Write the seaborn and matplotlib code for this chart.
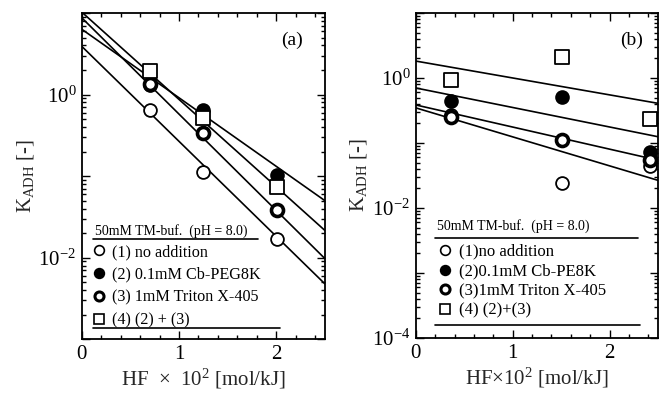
import numpy as np
import matplotlib
matplotlib.use("Agg")
import matplotlib.pyplot as plt
import matplotlib.ticker as mticker
from matplotlib.lines import Line2D
import seaborn as sns

# ---------------- data ----------------
# Panel (a)
hf_a = [0.70, 1.25, 2.01]
k_a_none = [0.65, 0.112, 0.017]
k_a_peg = [1.30, 0.65, 0.103]
k_a_triton = [1.33, 0.34, 0.038]
k_a_both = [1.92, 0.52, 0.074]
# regression lines: log10(K) at HF=0 and slope (decades per unit HF)
line_a_log0 = [0.59, 0.80, 0.94, 1.01]
line_a_slope = [-1.164, -0.84, -1.18, -1.07]

# Panel (b)
hf_b = [0.36, 1.51, 2.42]
k_b_none = [0.27, 0.024, 0.044]
k_b_peg = [0.44, 0.51, 0.073]
k_b_triton = [0.25, 0.11, 0.055]
k_b_both = [0.93, 2.1, 0.234]
line_b_log0 = [-0.46, -0.154, -0.415, 0.26]
line_b_slope = [-0.446, -0.30, -0.34, -0.26]

labels_a = ["(1) no addition", "(2) 0.1mM Cb-PEG8K", "(3) 1mM Triton X-405", "(4) (2) + (3)"]
labels_b = ["(1)no addition", "(2)0.1mM Cb-PE8K", "(3)1mM Triton X-405", "(4) (2)+(3)"]
header = "50mM TM-buf.  (pH = 8.0)"

# ---------------- style ----------------
sns.set_theme(style="ticks")
plt.rcParams['font.family'] = ['Liberation Serif', 'DejaVu Serif']
plt.rcParams['mathtext.fontset'] = 'custom'
plt.rcParams['mathtext.rm'] = 'Liberation Serif'
plt.rcParams['mathtext.it'] = 'Liberation Serif:italic'
plt.rcParams['mathtext.bf'] = 'Liberation Serif:bold'
plt.rcParams['axes.edgecolor'] = 'black'
plt.rcParams['text.color'] = 'black'
plt.rcParams['xtick.color'] = 'black'
plt.rcParams['ytick.color'] = 'black'

fig = plt.figure(figsize=(6.6, 3.93), dpi=100)
ax_a = fig.add_axes([0.124, 0.137, 0.368, 0.830])
ax_b = fig.add_axes([0.630, 0.140, 0.367, 0.827])

styles = [
    dict(marker='o', facecolor='white', edgecolor='black', linewidth=1.3, s=85),   # none
    dict(marker='o', facecolor='black', edgecolor='black', linewidth=1.3, s=85),   # peg
    dict(marker='o', facecolor='white', edgecolor='black', linewidth=2.6, s=75),   # triton
    dict(marker='s', facecolor='white', edgecolor='black', linewidth=1.3, s=95),   # both
]
handle_kw = [
    dict(marker='o', mfc='white', mec='black', mew=1.2, ms=7),
    dict(marker='o', mfc='black', mec='black', mew=1.2, ms=7),
    dict(marker='o', mfc='white', mec='black', mew=2.2, ms=6.5),
    dict(marker='s', mfc='white', mec='black', mew=1.2, ms=7),
]


def log_fmt(v, pos):
    e = int(round(np.log10(v)))
    if e % 2 == 0 and e <= 0:
        return r"$10^{%d}$" % e
    return ""


def draw_panel(ax, hf, series, log0, slope, ylim, labels, tag,
               header_xy, rule1, rule2, leg_anchor, labelspacing, legsize,
               xlabel):
    xs = np.linspace(0, 2.5, 60)
    for b0, m in zip(log0, slope):
        sns.lineplot(x=xs, y=10 ** (b0 + m * xs), ax=ax, color='black',
                     linewidth=1.2, estimator=None, sort=False, zorder=2)
    # drawing order: peg (under), none, triton, both
    for idx in [1, 0, 2, 3]:
        st = styles[idx]
        sns.scatterplot(x=hf, y=series[idx], ax=ax, marker=st['marker'],
                        s=st['s'], facecolor=st['facecolor'],
                        edgecolor=st['edgecolor'], linewidth=st['linewidth'],
                        zorder=3, legend=False)
    ax.set_yscale('log')
    ax.set_xlim(0, 2.5)
    ax.set_ylim(*ylim)
    ax.xaxis.set_major_locator(mticker.FixedLocator([0, 1, 2]))
    ax.xaxis.set_minor_locator(mticker.MultipleLocator(0.2))
    ax.xaxis.set_major_formatter(mticker.FormatStrFormatter('%d'))
    ax.yaxis.set_major_locator(mticker.LogLocator(base=10, numticks=20))
    ax.yaxis.set_minor_locator(mticker.LogLocator(base=10, subs=np.arange(2, 10), numticks=20))
    ax.yaxis.set_major_formatter(mticker.FuncFormatter(log_fmt))
    ax.yaxis.set_minor_formatter(mticker.NullFormatter())
    ax.tick_params(which='both', direction='in', top=True, right=True,
                   width=1.0, labelsize=15, pad=4)
    ax.tick_params(which='major', length=6)
    ax.tick_params(which='minor', length=3)
    for sp in ax.spines.values():
        sp.set_linewidth(1.3)
        sp.set_color('black')
    ax.set_xlabel(xlabel, fontsize=15, labelpad=2)
    ax.set_ylabel(r"K$_{\rm ADH}$ [-]", fontsize=15, labelpad=2)
    ax.text(tag[0], tag[1], tag[2], transform=ax.transAxes, fontsize=14,
            ha='center', va='center')
    # legend block
    ax.text(header_xy[0], header_xy[1], header, transform=ax.transAxes,
            fontsize=10, ha='left', va='center')
    for (x0, x1, y) in (rule1, rule2):
        ax.add_line(Line2D([x0, x1], [y, y], transform=ax.transAxes,
                           color='black', linewidth=1.2))
    handles = [Line2D([], [], linestyle='none', **kw) for kw in handle_kw]
    ax.legend(handles, labels, loc='upper left', bbox_to_anchor=leg_anchor,
              frameon=False, fontsize=legsize, handlelength=0.8,
              handletextpad=0.4, labelspacing=labelspacing,
              borderaxespad=0, borderpad=0)


draw_panel(ax_a, hf_a, [k_a_none, k_a_peg, k_a_triton, k_a_both],
           line_a_log0, line_a_slope, (1e-3, 1e1), labels_a,
           (0.864, 0.917, "(a)"),
           header_xy=(0.053, 0.333),
           rule1=(0.045, 0.724, 0.307), rule2=(0.045, 0.815, 0.034),
           leg_anchor=(0.045, 0.292), labelspacing=0.42, legsize=11.6,
           xlabel=r"HF  $\times$  10$^{2}$ [mol/kJ]")

draw_panel(ax_b, hf_b, [k_b_none, k_b_peg, k_b_triton, k_b_both],
           line_b_log0, line_b_slope, (1e-4, 1e1), labels_b,
           (0.89, 0.917, "(b)"),
           header_xy=(0.086, 0.343),
           rule1=(0.078, 0.918, 0.308), rule2=(0.078, 0.926, 0.040),
           leg_anchor=(0.095, 0.29), labelspacing=0.22, legsize=12,
           xlabel=r"HF$\times$10$^{2}$ [mol/kJ]")

fig.savefig("out.png", dpi=100)
